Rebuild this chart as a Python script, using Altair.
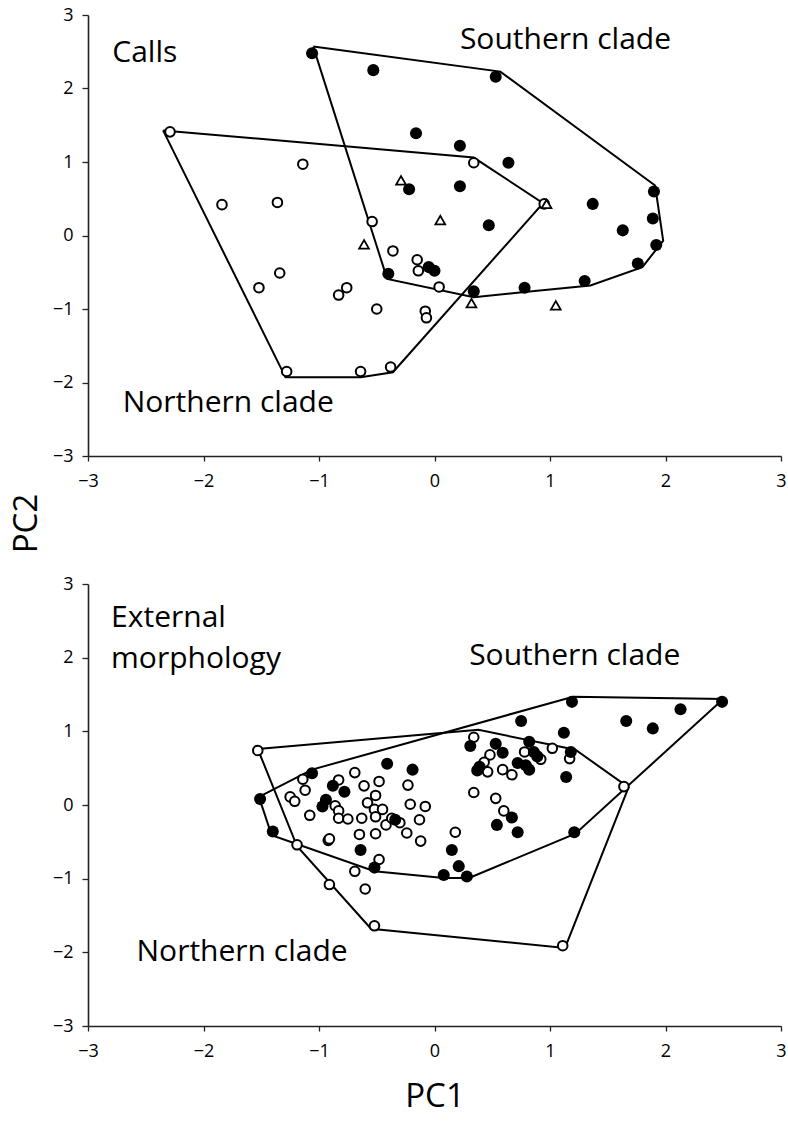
import altair as alt
import pandas as pd

FONT = "Open Sans"
TICKS = [-3, -2, -1, 0, 1, 2, 3]

# ---------------- Top panel: Calls ----------------
calls_north_x = [-2.29, -1.14, -1.84, -1.36, -0.54, 0.34, 0.95, -0.36, -0.15, -0.14, 0.04,
                 -1.34, -1.52, -0.76, -0.83, -0.50, -0.08, -0.07, -1.28, -0.64, -0.38]
calls_north_y = [1.41, 0.97, 0.42, 0.45, 0.19, 0.99, 0.43, -0.21, -0.33, -0.48, -0.70,
                 -0.51, -0.71, -0.71, -0.81, -1.00, -1.03, -1.12, -1.85, -1.85, -1.79]
calls_south_x = [-1.06, -0.53, -0.16, 0.53, 0.22, 0.64, 0.22, -0.22, 1.37, 1.90, 1.89,
                 0.47, 1.63, 1.92, 1.76, 1.30, 0.78, 0.34, -0.05, 0.00, -0.40]
calls_south_y = [2.48, 2.25, 1.39, 2.16, 1.22, 0.99, 0.67, 0.63, 0.43, 0.60, 0.23,
                 0.14, 0.07, -0.13, -0.38, -0.62, -0.71, -0.76, -0.43, -0.48, -0.52]
calls_other_x = [-0.29, 0.05, 0.97, -0.61, 0.32, 1.05]
calls_other_y = [0.75, 0.21, 0.43, -0.12, -0.92, -0.95]

calls_north_hull_x = [-2.35, 0.34, 0.94, -0.36, -0.64, -1.29]
calls_north_hull_y = [1.43, 1.06, 0.44, -1.86, -1.93, -1.93]
calls_south_hull_x = [-1.05, 0.57, 1.91, 1.98, 1.80, 1.35, 0.78, 0.34, -0.41]
calls_south_hull_y = [2.57, 2.23, 0.68, -0.07, -0.43, -0.68, -0.77, -0.84, -0.59]

calls_labels = ["Calls", "Southern clade", "Northern clade"]
calls_label_x = [-2.79, 0.22, -2.70]
calls_label_y = [2.36, 2.54, -2.40]

# ---------------- Bottom panel: External morphology ----------------
morph_north_x = [-1.53, -1.14, -1.12, -1.25, -1.21, -1.08, -1.19, -0.83, -0.86, -0.83,
                 -0.83, -0.75, -0.92, -0.91, -0.69, -0.61, -0.48, -0.51, -0.58, -0.52,
                 -0.45, -0.63, -0.51, -0.42, -0.37, -0.30, -0.23, -0.21, -0.08, -0.13,
                 -0.24, -0.12, -0.65, -0.51, -0.48, -0.69, -0.91, -0.60, -0.52, 1.11,
                 1.64, 0.34, 0.53, 0.60, 0.18, 0.34, 0.48, 0.43, 0.46, 0.78,
                 0.92, 0.59, 0.67, 1.02, 1.17]
morph_north_y = [0.74, 0.35, 0.20, 0.11, 0.05, -0.14, -0.54, 0.34, -0.01, -0.08,
                 -0.18, -0.19, -0.48, -0.46, 0.44, 0.26, 0.32, 0.13, 0.03, -0.06,
                 -0.06, -0.18, -0.16, -0.27, -0.18, -0.24, 0.27, 0.01, -0.02, -0.20,
                 -0.38, -0.49, -0.40, -0.39, -0.74, -0.90, -1.08, -1.14, -1.64, -1.91,
                 0.25, 0.17, 0.09, -0.08, -0.37, 0.92, 0.68, 0.58, 0.45, 0.72,
                 0.62, 0.48, 0.41, 0.77, 0.63]
morph_south_x = [-1.06, -1.51, -1.40, -0.88, -0.78, -0.94, -0.97, -0.41, -0.19, -0.34,
                 -0.64, -0.52, 0.15, 0.21, 0.08, 0.28, 0.54, 0.67, 0.72, 1.21,
                 1.14, 1.18, 1.12, 1.19, 0.75, 1.66, 1.89, 2.13, 2.49, 0.82,
                 0.31, 0.53, 0.59, 0.39, 0.37, 0.86, 0.89, 0.72, 0.79, 0.82]
morph_south_y = [0.43, 0.08, -0.36, 0.26, 0.18, 0.07, -0.02, 0.56, 0.48, -0.20,
                 -0.61, -0.85, -0.61, -0.83, -0.95, -0.97, -0.27, -0.17, -0.37, -0.37,
                 0.38, 0.72, 0.98, 1.40, 1.14, 1.14, 1.04, 1.30, 1.40, 0.86,
                 0.80, 0.83, 0.71, 0.52, 0.47, 0.72, 0.66, 0.57, 0.54, 0.48]

morph_north_hull_x = [-1.53, 0.38, 1.22, 1.68, 1.13, -0.55, -1.19]
morph_north_hull_y = [0.76, 1.02, 0.75, 0.24, -1.94, -1.68, -0.56]
morph_south_hull_x = [-1.52, -1.06, 1.20, 2.50, 1.22, 0.30, 0.08, -0.52, -1.41]
morph_south_hull_y = [0.11, 0.48, 1.47, 1.44, -0.39, -0.99, -0.99, -0.90, -0.41]

morph_labels = ["External", "morphology", "Southern clade", "Northern clade"]
morph_label_x = [-2.80, -2.80, 0.30, -2.58]
morph_label_y = [2.42, 1.86, 1.90, -2.12]


def hull_frame(groups):
    rows = []
    for name, xs, ys in groups:
        xs2 = list(xs) + [xs[0]]
        ys2 = list(ys) + [ys[0]]
        for i, (a, b) in enumerate(zip(xs2, ys2)):
            rows.append({"hull": name, "order": i, "x": a, "y": b})
    return pd.DataFrame(rows)


def make_panel(nx, ny, sx, sy, ox, oy, hulls, lx, ly, ltxt, height, x_axis, y_axis):
    xs = alt.X("x:Q", scale=alt.Scale(domain=[-3, 3], nice=False, zero=False), axis=x_axis)
    ys = alt.Y("y:Q", scale=alt.Scale(domain=[-3, 3], nice=False, zero=False), axis=y_axis)

    hull_df = hull_frame(hulls)
    hull_layer = alt.Chart(hull_df).mark_line(color="black", strokeWidth=2).encode(
        x=xs, y=ys, order="order:Q", detail="hull:N")

    north_df = pd.DataFrame({"x": nx, "y": ny})
    north_layer = alt.Chart(north_df).mark_circle(
        fill="white", stroke="black", strokeWidth=2, size=92, opacity=1).encode(x=xs, y=ys)

    layers = [hull_layer, north_layer]
    if ox:
        other_df = pd.DataFrame({"x": ox, "y": oy})
        layers.append(alt.Chart(other_df).mark_point(
            shape="triangle-up", filled=True, fill="white", stroke="black",
            strokeWidth=1.8, size=95, opacity=1).encode(x=xs, y=ys))

    south_df = pd.DataFrame({"x": sx, "y": sy})
    layers.append(alt.Chart(south_df).mark_circle(
        color="black", size=145, opacity=1).encode(x=xs, y=ys))

    lab_df = pd.DataFrame({"x": lx, "y": ly, "t": ltxt})
    layers.append(alt.Chart(lab_df).mark_text(
        align="left", baseline="alphabetic", font=FONT, fontSize=30, color="black").encode(
        x=xs, y=ys, text="t:N"))

    return alt.layer(*layers).properties(width=693, height=height)


def xaxis(title):
    kw = dict(values=TICKS, grid=False, domainColor="#222", domainWidth=1.6,
              tickColor="#222", tickWidth=1.3, tickSize=5, labelFont=FONT,
              labelFontSize=18, labelColor="black", labelPadding=11, labelFlush=False,
              labelOverlap=False)
    if title:
        return alt.Axis(title=title, titleFont=FONT, titleFontSize=33,
                        titleFontWeight="normal", titleColor="black", titlePadding=20, **kw)
    return alt.Axis(title=None, **kw)


def yaxis(title):
    kw = dict(values=TICKS, grid=False, domainColor="#222", domainWidth=1.6,
              tickColor="#222", tickWidth=1.3, tickSize=6, labelFont=FONT,
              labelFontSize=18, labelColor="black", labelPadding=9, labelOverlap=False)
    if title:
        return alt.Axis(title=title, titleFont=FONT, titleFontSize=33,
                        titleFontWeight="normal", titleColor="black", titleAngle=270,
                        titleAlign="center", titleBaseline="alphabetic",
                        titleX=-52, titleY=508, **kw)
    return alt.Axis(title=None, **kw)


top = make_panel(calls_north_x, calls_north_y, calls_south_x, calls_south_y,
                 calls_other_x, calls_other_y,
                 [("north", calls_north_hull_x, calls_north_hull_y),
                  ("south", calls_south_hull_x, calls_south_hull_y)],
                 calls_label_x, calls_label_y, calls_labels, 441,
                 xaxis(None), yaxis("PC2"))

bottom = make_panel(morph_north_x, morph_north_y, morph_south_x, morph_south_y,
                    [], [],
                    [("north", morph_north_hull_x, morph_north_hull_y),
                     ("south", morph_south_hull_x, morph_south_hull_y)],
                    morph_label_x, morph_label_y, morph_labels, 442,
                    xaxis("PC1"), yaxis(None))

chart = alt.vconcat(top, bottom, spacing=128, bounds="flush").configure_view(
    stroke=None).properties(padding={"left": 10, "top": 6, "right": 0, "bottom": 5},
                            background="white")

chart.save("out.html", embed_options={"renderer": "svg", "actions": False})
